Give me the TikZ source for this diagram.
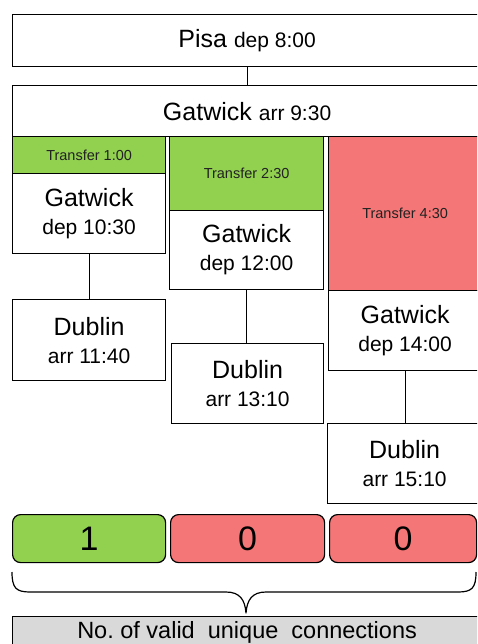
\documentclass[tikz,border=0pt]{standalone}
\usepackage{fontspec}
\setmainfont{Liberation Sans}
\definecolor{okgreen}{HTML}{92D050}
\definecolor{badred}{HTML}{F57676}
\definecolor{notegrey}{HTML}{D9D9D9}
\definecolor{labeltext}{HTML}{222222}
\newcommand{\placefont}{\fontsize{25}{28}\selectfont}
\newcommand{\timefont}{\fontsize{21}{28}\selectfont}
\newcommand{\transferfont}{\fontsize{14.5}{17}\selectfont\color{labeltext}}
\newcommand{\countfont}{\fontsize{34}{38}\selectfont}
\newcommand{\notefont}{\fontsize{23.5}{26}\selectfont}
\begin{document}
\begin{tikzpicture}[x=1pt,y=-1pt,
  box/.style={draw=black, line width=1.2pt, fill=white, inner sep=0pt,
    anchor=north west, align=center},
  stop/.style={box, font=\placefont},
  transfer/.style={box, font=\transferfont},
  countbox/.style={box, rounded corners=8pt, font=\countfont},
  conn/.style={draw=black, line width=1.2pt}]
\path[use as bounding box] (0,0) rectangle (477,644);
\clip (0,0) rectangle (477,644);

% departure and arrival at the hub
\node[stop, minimum width=469pt, minimum height=52pt] (pisa) at (12,14)
  {Pisa {\timefont dep 8:00}};
\node[stop, minimum width=469pt, minimum height=51pt] (gatarr) at (12,85)
  {Gatwick {\timefont arr 9:30}};

% first connection
\node[transfer, fill=okgreen, minimum width=153pt, minimum height=37pt] (tr1) at (12,136) {Transfer 1:00};
\node[stop, minimum width=153pt, minimum height=80pt] (gdep1) at (12,173)
  {Gatwick\\{\timefont dep 10:30}};
\node[stop, minimum width=153pt, minimum height=81pt] (dub1) at (12,299)
  {Dublin\\{\timefont arr 11:40}};

% second connection
\node[transfer, fill=okgreen, minimum width=154pt, minimum height=74pt] (tr2) at (169,136) {Transfer 2:30};
\node[stop, minimum width=154pt, minimum height=79pt] (gdep2) at (169,210)
  {Gatwick\\{\timefont dep 12:00}};
\node[stop, minimum width=152pt, minimum height=80pt] (dub2) at (171,343)
  {Dublin\\{\timefont arr 13:10}};

% third connection
\node[transfer, fill=badred, minimum width=153pt, minimum height=154pt] (tr3) at (328,136) {Transfer 4:30};
\node[stop, minimum width=153pt, minimum height=80pt] (gdep3) at (328,290)
  {Gatwick\\{\timefont dep 14:00}};
\node[stop, minimum width=154pt, minimum height=80pt] (dub3) at (327,423)
  {Dublin\\{\timefont arr 15:10}};

% flight legs
\draw[conn] (pisa.south) -- (gatarr.north);
\draw[conn] (gdep1.south) -- (gdep1.south |- dub1.north);
\draw[conn] (gdep2.south) -- (gdep2.south |- dub2.north);
\draw[conn] (gdep3.south) -- (gdep3.south |- dub3.north);

% counts of valid connections
\node[countbox, fill=okgreen, minimum width=153pt, minimum height=48pt] (c1) at (12,514) {1};
\node[countbox, fill=badred, minimum width=154pt, minimum height=48pt] (c2) at (170,514) {0};
\node[countbox, fill=badred, minimum width=147pt, minimum height=48pt] (c3) at (329,514) {0};

% summary
\node[box, fill=notegrey, minimum width=469pt, minimum height=32pt, font=\notefont] (note) at (12,616)
  {No.\ of valid\ \ unique\ \ connections};

% brace over the counts
\draw[conn, line join=round]
  (12,572) .. controls (12,588) and (16,592) .. (30,592)
  -- (226,592) .. controls (240,592) and (245,600) .. (246,613)
  .. controls (247,600) and (252,592) .. (266,592)
  -- (458,592) .. controls (472,592) and (476,588) .. (476,572);
\end{tikzpicture}
\end{document}
